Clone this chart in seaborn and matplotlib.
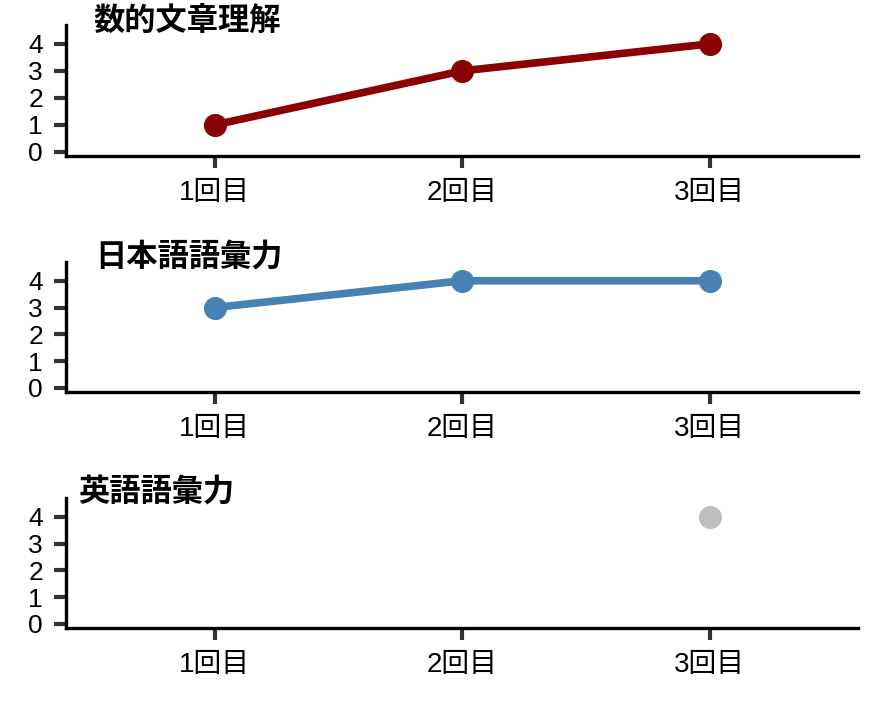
import numpy as np
import pandas as pd
import matplotlib
matplotlib.use("Agg")
import matplotlib.pyplot as plt
import seaborn as sns

sessions = ["1回目", "2回目", "3回目"]
titles = ["数的文章理解", "日本語語彙力", "英語語彙力"]
scores_num = [1, 3, 4]
scores_jp = [3, 4, 4]
scores_en = [np.nan, np.nan, 4]
colors = ["#8B0000", "#4682B4", "#BEBEBE"]
yticks = [0, 1, 2, 3, 4]

sns.set_theme(style="ticks")
plt.rcParams["font.family"] = ["Liberation Sans", "Noto Sans CJK JP", "DejaVu Sans"]

fig = plt.figure(figsize=(8.85, 7.08), dpi=100)
W, H = 885, 708
panels = [(25, 156), (262, 392), (498, 628)]
title_x = [93, 95, 78]
title_y = [22, 258, 494]
series = [scores_num, scores_jp, scores_en]

for i, (top, bot) in enumerate(panels):
    ax = fig.add_axes([66 / W, 1 - bot / H, (858 - 66) / W, (bot - top) / H])
    df = pd.DataFrame({"session": sessions, "score": series[i]})
    sns.pointplot(data=df, x="session", y="score", order=sessions, color=colors[i],
                  errorbar=None, ax=ax, markersize=12.5, linewidth=5.5)
    ax.set_xlim(-0.6, 2.6)
    ax.set_ylim(-0.15, 4.7)
    ax.set_yticks(yticks)
    ax.set_yticklabels([str(v) for v in yticks])
    ax.set_xlabel("")
    ax.set_ylabel("")
    for s in ["top", "right"]:
        ax.spines[s].set_visible(False)
    for s in ["left", "bottom"]:
        ax.spines[s].set_linewidth(2.4)
        ax.spines[s].set_color("black")
    ax.tick_params(axis="both", length=8.5, width=3, color="#333333",
                   labelcolor="black")
    ax.tick_params(axis="y", labelsize=19, pad=8)
    ax.tick_params(axis="x", labelsize=20, pad=8.5)
    fig.text(title_x[i] / W, 1 - title_y[i] / H, titles[i], fontsize=22.5, fontweight="bold",
             ha="left", va="center", color="black")

fig.savefig("out.png", dpi=100)
